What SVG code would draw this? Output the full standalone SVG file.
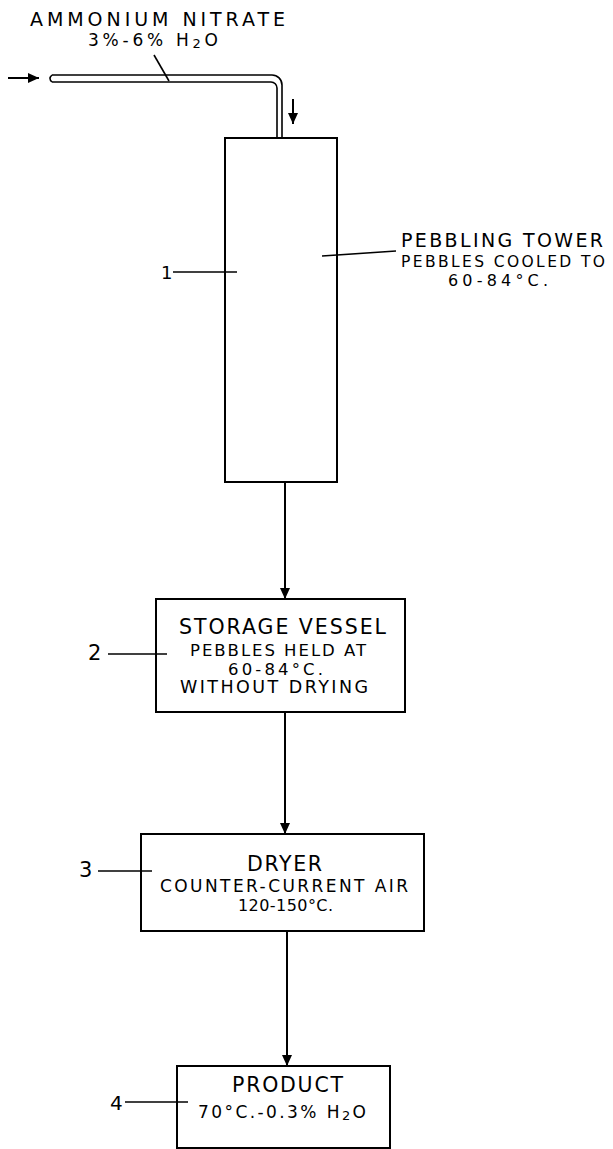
<svg xmlns="http://www.w3.org/2000/svg" width="613" height="1149" viewBox="0 0 613 1149">
<style>
  .box{fill:#fff;stroke:#000;stroke-width:2}
  .ln{fill:none;stroke:#000;stroke-width:1.6}
  .con{fill:none;stroke:#000;stroke-width:2}
  text{font-family:"DejaVu Sans","Liberation Sans",sans-serif;fill:#000}
</style>
<defs>
  <marker id="ah" markerUnits="userSpaceOnUse" markerWidth="12" markerHeight="10" refX="11" refY="5" orient="auto">
    <path d="M0,0 L11,5 L0,10 Z" fill="#000"/>
  </marker>
</defs>
<rect width="613" height="1149" fill="#fff"/>

<g id="feed">
  <path class="ln" d="M52,75 H272 A10,10 0 0 1 282,85 V138"/>
  <path class="ln" d="M52,82 H271 A6,6 0 0 1 277,88 V138"/>
  <path class="ln" d="M52,75 Q48,78.5 52,82"/>
  <text x="30" y="26" style="font-size:19px" textLength="255" lengthAdjust="spacing">AMMONIUM NITRATE</text>
  <text x="88" y="46" style="font-size:17px" textLength="130" lengthAdjust="spacing">3%-6% H<tspan font-size="13" dy="2">2</tspan><tspan dy="-2">O</tspan></text>
  <line class="ln" x1="154" y1="55" x2="169" y2="81"/>
</g>

<g id="tower">
  <rect class="box" x="225" y="138" width="112" height="344"/>
  <line class="ln" x1="173" y1="272" x2="237" y2="272"/>
  <text x="161" y="279" style="font-size:18px">1</text>
  <line class="ln" x1="322" y1="256" x2="396" y2="251"/>
  <text x="401" y="247" style="font-size:19px" textLength="202" lengthAdjust="spacing">PEBBLING TOWER</text>
  <text x="401" y="267" style="font-size:15.5px" textLength="204" lengthAdjust="spacing">PEBBLES COOLED TO</text>
  <text x="448" y="286" style="font-size:16px" textLength="100" lengthAdjust="spacing">60-84°C.</text>
</g>

<g id="storage">
  <rect class="box" x="156" y="599" width="249" height="113"/>
  <line class="ln" x1="108" y1="654" x2="167" y2="654"/>
  <text x="88" y="660" style="font-size:21px">2</text>
  <text x="179" y="634" style="font-size:20.5px" textLength="207" lengthAdjust="spacing">STORAGE VESSEL</text>
  <text x="190" y="656" style="font-size:16.5px" textLength="176" lengthAdjust="spacing">PEBBLES HELD AT</text>
  <text x="228" y="675" style="font-size:16.5px" textLength="95" lengthAdjust="spacing">60-84°C.</text>
  <text x="180" y="693" style="font-size:17.5px" textLength="188" lengthAdjust="spacing">WITHOUT DRYING</text>
</g>

<g id="dryer">
  <rect class="box" x="141" y="834" width="283" height="97"/>
  <line class="ln" x1="98" y1="871" x2="152" y2="871"/>
  <text x="79" y="877" style="font-size:21px">3</text>
  <text x="247" y="871" style="font-size:20.5px" textLength="75" lengthAdjust="spacing">DRYER</text>
  <text x="160" y="892" style="font-size:17px" textLength="248" lengthAdjust="spacing">COUNTER-CURRENT AIR</text>
  <text x="238" y="911" style="font-size:16px" textLength="95" lengthAdjust="spacing">120-150°C.</text>
</g>

<g id="product">
  <rect class="box" x="177" y="1066" width="213" height="82"/>
  <line class="ln" x1="125" y1="1102" x2="188" y2="1102"/>
  <text x="110" y="1110" style="font-size:20px">4</text>
  <text x="232" y="1092" style="font-size:20.5px" textLength="111" lengthAdjust="spacing">PRODUCT</text>
  <text x="198" y="1118" style="font-size:17px" textLength="168" lengthAdjust="spacing">70°C.-0.3% H<tspan font-size="13" dy="2">2</tspan><tspan dy="-2">O</tspan></text>
</g>

<g id="connectors">
  <line class="con" x1="8" y1="78" x2="39" y2="78" marker-end="url(#ah)"/>
  <line class="con" x1="293" y1="99" x2="293" y2="124" marker-end="url(#ah)"/>
  <line class="con" x1="285" y1="482" x2="285" y2="599" marker-end="url(#ah)"/>
  <line class="con" x1="285" y1="712" x2="285" y2="834" marker-end="url(#ah)"/>
  <line class="con" x1="287" y1="931" x2="287" y2="1066" marker-end="url(#ah)"/>
</g>
</svg>
